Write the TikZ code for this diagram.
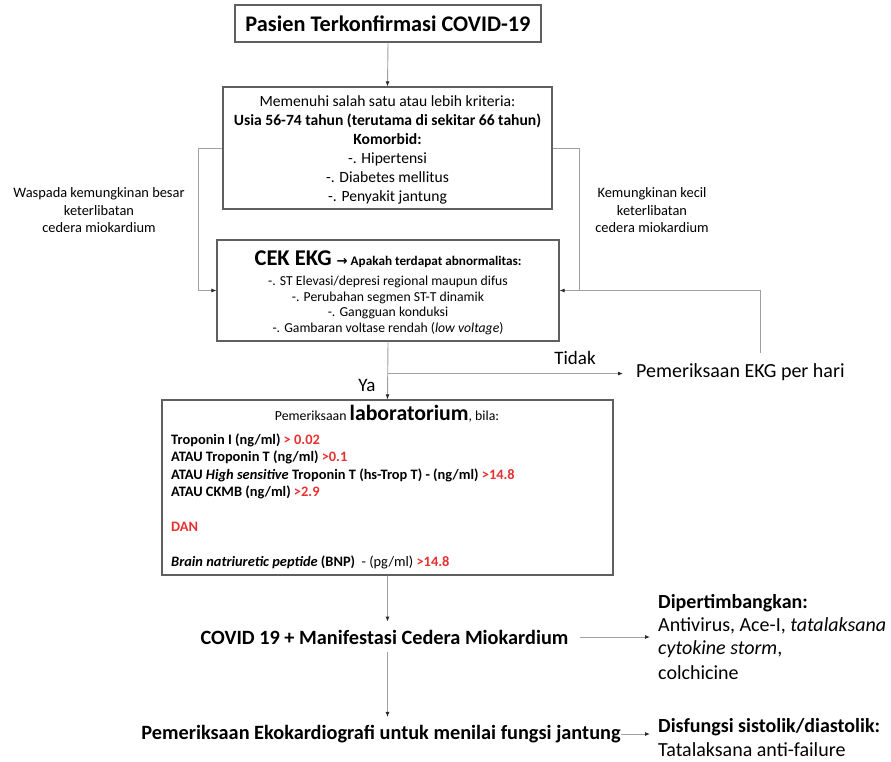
\documentclass[tikz,border=0pt]{standalone}
\usepackage{fontspec}
\setmainfont{Carlito}
\newfontfamily\djv{DejaVu Sans}
\usetikzlibrary{arrows.meta}
\definecolor{boxline}{RGB}{95,95,95}
\definecolor{connline}{RGB}{160,160,160}
\definecolor{tipcol}{RGB}{40,40,40}
\definecolor{redval}{RGB}{232,48,48}
\newcommand{\fsz}[2]{\fontsize{#1}{#2}\selectfont}
\newcommand{\rv}[1]{\textcolor{redval}{#1}}
\begin{document}
\begin{tikzpicture}[x=1pt,y=-1pt,
  boxnode/.style={draw=boxline, line width=1.1pt, inner sep=0pt},
  txt/.style={inner sep=0pt, text=black},
  conn/.style={draw=connline, line width=0.9pt},
  arr/.style={conn, -{Latex[length=5pt,width=4pt,color=tipcol]}},
  sidelbl/.style={txt, align=center, font=\fsz{14.4}{17.5}},
  labline/.style={txt, anchor=west, font=\bfseries\fsz{14.4}{17}},
  bigbold/.style={txt, inner ysep=8pt, font=\bfseries\fsz{20.3}{24}},
  rline/.style={txt, anchor=west, font=\fsz{20}{24}},
]
\useasboundingbox (0,0) rectangle (891,761);

% boxes
\node[boxnode, minimum width=306pt, minimum height=37pt, font=\bfseries\fsz{22.3}{26}] (top) at (388,23.5) {Pasien Terkonfirmasi COVID-19};

\node[boxnode, minimum width=329pt, minimum height=122pt] (crit) at (387.5,148) {};
\node[txt, align=center, font=\fsz{15.6}{19}] (crittxt) at (387.5,149.5)
  {Memenuhi salah satu atau lebih kriteria:\\
   \textbf{Usia 56-74 tahun (terutama di sekitar 66 tahun)}\\
   \textbf{Komorbid:}\\
   -. Hipertensi\\
   -. Diabetes mellitus\\
   -. Penyakit jantung};

\node[boxnode, minimum width=342pt, minimum height=101pt] (ekg) at (388,290.5) {};
\node[txt, anchor=base] (ekghead) at (388,265)
  {\bfseries\fsz{22.5}{26}CEK EKG {\fsz{13.2}{15}{\djv\bfseries →} Apakah terdapat abnormalitas:}};
\node[txt, align=center, font=\fsz{13.7}{15.7}] (ekglist) at (388,305.5)
  {-. ST Elevasi/depresi regional maupun difus\\
   -. Perubahan segmen ST-T dinamik\\
   -. Gangguan konduksi\\
   -. Gambaran voltase rendah (\textit{low voltage})};

\node[boxnode, minimum width=451pt, minimum height=175pt] (lab) at (387.5,487.5) {};
\node[txt, anchor=base] (labhead) at (387,420)
  {\fsz{13.8}{16}Pemeriksaan {\bfseries\fsz{21.8}{25}laboratorium}, bila:};
\node[labline] (l1) at (171,440) {Troponin I (ng/ml) \rv{> 0.02}};
\node[labline] (l2) at (171,457.5) {ATAU Troponin T (ng/ml) \rv{>0.1}};
\node[labline] (l3) at (171,475) {ATAU \textit{High sensitive} Troponin T (hs-Trop T) - (ng/ml) \rv{>14.8}};
\node[labline] (l4) at (171,492.5) {ATAU CKMB (ng/ml) \rv{>2.9}};
\node[labline] (l5) at (171,527) {\rv{DAN}};
\node[labline] (l6) at (171,562) {\textit{Brain natriuretic peptide} (BNP) \ \mdseries - (pg/ml) \bfseries\rv{>14.8}};

% side labels
\node[sidelbl] (waspada) at (99,210.5) {Waspada kemungkinan besar\\keterlibatan\\cedera miokardium};
\node[sidelbl] (kecil) at (652,210.5) {Kemungkinan kecil\\keterlibatan\\cedera miokardium};

% branch labels
\node[txt, font=\fsz{19}{22}] (tidak) at (575,358) {Tidak};
\node[txt, font=\fsz{19}{22}] (ya) at (367,385) {Ya};
\node[txt, anchor=west, font=\fsz{20}{24}] (hari) at (636,372) {Pemeriksaan EKG per hari};

% bottom
\node[bigbold] (cm) at (384.5,637) {COVID 19 + Manifestasi Cedera Miokardium};
\node[bigbold, inner ysep=8pt] (eko) at (381,734) {Pemeriksaan Ekokardiografi untuk menilai fungsi jantung};

\node[rline, font=\bfseries\fsz{20}{24}] (dipA) at (658,603) {Dipertimbangkan:};
\node[rline] (dipB) at (658,626) {Antivirus, Ace-I, \textit{tatalaksana}};
\node[rline] (dipC) at (658,649.5) {\textit{cytokine storm},};
\node[rline] (dipD) at (658,673) {colchicine};
\node[rline, font=\bfseries\fsz{20}{24}] (disA) at (658,727) {Disfungsi sistolik/diastolik:};
\node[rline] (disB) at (658,750) {Tatalaksana anti-failure};

% connectors
\draw[arr] (top.south) -- (crit.north);
\path (ekg.west) ++(-18,0) coordinate (lj);
\path (ekg.east) ++(20,0) coordinate (rj);
\draw[arr] (crit.west) -| (lj) -- (ekg.west);
\draw[conn] (crit.east) -| (rj);
\coordinate (lp) at (760,353);
\draw[arr] (lp) |- (ekg.east);
\draw[arr] (ekg.south) -- (lab.north);
\path (ekg.south) ++(0,32) coordinate (br);
\draw[arr, shorten >=13pt] (br) -- (br -| hari.west);
\draw[arr] (lab.south) -- (lab.south |- cm.north);
\draw[arr] (cm.south -| lab.south) -- (eko.north -| lab.south);
\draw[arr, shorten <=11pt, shorten >=8pt] (cm.east) -- (cm.east -| dipA.west);
\draw[arr, shorten >=8pt] (eko.east) -- (eko.east -| disA.west);
\end{tikzpicture}
\end{document}
